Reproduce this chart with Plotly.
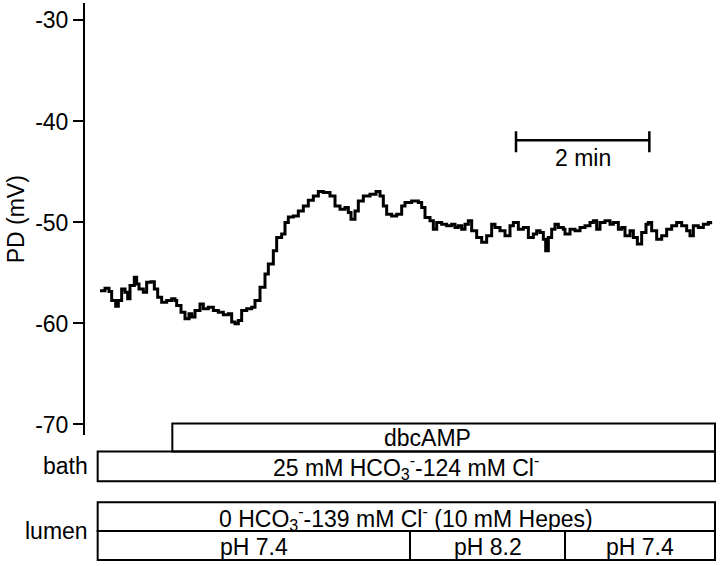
import plotly.graph_objects as go

# ---- data: time (min) and transepithelial PD (mV) ----
time_min = [
    0.225, 0.300, 0.360, 0.400, 0.460, 0.500, 0.550, 0.600, 0.640, 0.675,
    0.740, 0.775, 0.810, 0.875, 0.925, 0.990, 1.040, 1.090, 1.150, 1.225,
    1.300, 1.350, 1.375, 1.440, 1.500, 1.560, 1.600, 1.650, 1.725, 1.775,
    1.850, 1.925, 2.000, 2.075, 2.150, 2.200, 2.250, 2.300, 2.350, 2.425,
    2.500, 2.550, 2.625, 2.700, 2.750, 2.825, 2.875, 2.950, 3.000, 3.050,
    3.125, 3.200, 3.275, 3.350, 3.425, 3.500, 3.575, 3.675, 3.750, 3.825,
    3.900, 3.950, 3.990, 4.050, 4.100, 4.175, 4.275, 4.365, 4.425, 4.475,
    4.525, 4.600, 4.675, 4.750, 4.800, 4.900, 5.000, 5.050, 5.100, 5.175,
    5.225, 5.275, 5.350, 5.425, 5.500, 5.550, 5.600, 5.650, 5.700, 5.750,
    5.800, 5.875, 5.950, 6.025, 6.100, 6.150, 6.225, 6.300, 6.375, 6.425,
    6.500, 6.575, 6.650, 6.725, 6.775, 6.825, 6.875, 6.910, 6.950, 7.000,
    7.050, 7.100, 7.175, 7.200, 7.275, 7.350, 7.425, 7.500, 7.575, 7.625,
    7.675, 7.725, 7.800, 7.875, 7.925, 8.000, 8.050, 8.100, 8.175, 8.225,
    8.285, 8.350, 8.415, 8.450, 8.500, 8.575, 8.650, 8.725, 8.800, 8.875,
    8.950, 9.025, 9.075, 9.125, 9.200, 9.275, 9.350, 9.385,
]
pd_mv = [
    -56.75, -56.51, -56.84, -57.73, -58.29, -57.73, -56.58, -56.91, -57.56, -56.25,
    -55.43, -56.08, -56.58, -56.91, -55.92, -55.86, -56.58, -57.40, -57.89, -57.73,
    -57.56, -57.73, -58.22, -58.88, -59.54, -59.04, -59.37, -58.72, -58.06, -58.55,
    -58.39, -58.72, -58.88, -59.14, -59.04, -59.86, -60.03, -59.70, -58.72, -58.55,
    -58.39, -57.73, -56.41, -55.10, -54.11, -52.80, -51.48, -51.15, -50.00, -49.45,
    -49.35, -48.86, -48.36, -47.80, -47.38, -46.94, -47.04, -47.38, -48.36, -48.69,
    -48.52, -49.01, -49.67, -48.86, -47.87, -47.38, -47.21, -46.94, -47.38, -48.36,
    -49.18, -49.35, -49.18, -48.36, -48.03, -47.87, -48.03, -48.52, -49.51, -49.84,
    -50.66, -50.00, -50.17, -50.33, -50.17, -50.49, -50.33, -50.66, -50.17, -49.84,
    -50.83, -51.48, -51.97, -51.32, -50.17, -50.49, -50.83, -51.32, -50.33, -50.00,
    -50.66, -50.49, -51.48, -51.15, -50.83, -50.99, -51.65, -52.80, -51.48, -50.66,
    -50.17, -50.49, -50.66, -51.15, -50.66, -50.83, -50.49, -50.33, -50.00, -49.84,
    -50.66, -50.00, -49.84, -50.17, -50.00, -50.66, -50.49, -51.32, -50.83, -51.48,
    -52.14, -50.99, -50.17, -50.00, -50.83, -51.65, -51.32, -50.66, -50.33, -50.00,
    -50.33, -50.83, -51.32, -50.33, -50.49, -50.17, -50.00, -50.17,
]

y_ticks = [-70, -60, -50, -40, -30]
y_tick_labels = ["-70", "-60", "-50", "-40", "-30"]

# experimental protocol (times in min)
protocol_start = 0.19
protocol_end = 9.45
dbcamp_start = 1.31
ph_change_times = [4.875, 7.20]
ph_labels = ["pH 7.4", "pH 8.2", "pH 7.4"]

# scale bar
scale_bar_start = 6.465
scale_bar_minutes = 2
scale_bar_level = -41.86

# ---- layout constants (pixels) ----
W, H = 720, 566
ML = 85
FONT = "Liberation Sans, Arial, Helvetica, sans-serif"
FS = 23
PX_PER_MIN = 66.667


def py(px):
    """pixel row from the top -> paper coordinate"""
    return 1 - px / H


fig = go.Figure()

fig.add_trace(go.Scatter(
    x=time_min, y=pd_mv, mode="lines",
    line=dict(color="black", width=3, shape="hv"), hoverinfo="skip", showlegend=False,
))

# scale bar as a trace in data coords
sb_end = scale_bar_start + scale_bar_minutes
fig.add_trace(go.Scatter(
    x=[scale_bar_start, sb_end, None, scale_bar_start, scale_bar_start, None, sb_end, sb_end],
    y=[scale_bar_level, scale_bar_level, None,
       scale_bar_level + 0.9, scale_bar_level - 1.2, None,
       scale_bar_level + 0.9, scale_bar_level - 1.2],
    mode="lines", line=dict(color="black", width=2.5),
    hoverinfo="skip", showlegend=False,
))

fig.add_annotation(
    x=scale_bar_start + scale_bar_minutes / 2, y=scale_bar_level - 1.8,
    xref="x", yref="y", text=f"{scale_bar_minutes} min", showarrow=False,
    font=dict(family=FONT, size=FS, color="black"), yanchor="middle",
)

# ---- protocol boxes ----
rows = {
    "dbc": (425, 453),
    "bath": (453, 483),
    "lumen": (504, 533),
    "ph": (533, 562),
}
line = dict(color="black", width=2)


def box(x0, x1, row):
    t, b = rows[row]
    fig.add_shape(type="rect", xref="x", yref="paper",
                  x0=x0, x1=x1, y0=py(b), y1=py(t), line=line,
                  fillcolor="rgba(0,0,0,0)", layer="above")


def label(x, row, text):
    t, b = rows[row]
    fig.add_annotation(x=x, y=py((t + b) / 2 + 1), xref="x", yref="paper",
                       text=text, showarrow=False, xanchor="center", yanchor="middle",
                       font=dict(family=FONT, size=FS, color="black"))


box(dbcamp_start, protocol_end, "dbc")
label(5.13, "dbc", "dbcAMP")

box(protocol_start, protocol_end, "bath")
label((protocol_start + protocol_end) / 2, "bath",
      "25 mM HCO<sub>3</sub><sup>-</sup>-124 mM Cl<sup>-</sup>")

box(protocol_start, protocol_end, "lumen")
label((protocol_start + protocol_end) / 2, "lumen",
      "0 HCO<sub>3</sub><sup>-</sup>-139 mM Cl<sup>-</sup> (10 mM Hepes)")

edges = [protocol_start] + ph_change_times + [protocol_end]
for i, lab in enumerate(ph_labels):
    box(edges[i], edges[i + 1], "ph")
    label((edges[i] + edges[i + 1]) / 2, "ph", lab)

# side labels
for name, row in (("bath", "bath"), ("lumen", None)):
    if row:
        t, b = rows[row]
    else:
        t, b = rows["lumen"][0], rows["ph"][1]
    fig.add_annotation(x=(90 - ML) / (W - ML), y=py((t + b) / 2), xref="paper", yref="paper",
                       text=name, showarrow=False, xanchor="right", yanchor="middle",
                       font=dict(family=FONT, size=FS, color="black"))

# ---- axes ----
px_per_mv = (426 - 20.5) / 40
y_top = -30 + (20.5 - 3) / px_per_mv
y_bot = -70 - (437 - 426) / px_per_mv

fig.update_xaxes(range=[0, (W - ML) / PX_PER_MIN], visible=False, fixedrange=True)
fig.update_yaxes(
    domain=[1 - 437 / H, 1 - 3 / H], range=[y_bot, y_top],
    showline=True, linecolor="black", linewidth=2,
    ticks="outside", ticklen=10, tickwidth=2, tickcolor="black",
    tickvals=y_ticks, ticktext=y_tick_labels,
    tickfont=dict(family=FONT, size=FS, color="black"),
    showgrid=False, zeroline=False,
    title=dict(text="PD (mV)", font=dict(family=FONT, size=FS, color="black"), standoff=4),
)

fig.update_layout(
    width=W, height=H,
    margin=dict(l=ML, r=0, t=0, b=0, pad=0),
    plot_bgcolor="white", paper_bgcolor="white",
    showlegend=False,
)

fig.write_html("out.html", config={"displayModeBar": False},
               post_script="document.body.style.margin='0';")
